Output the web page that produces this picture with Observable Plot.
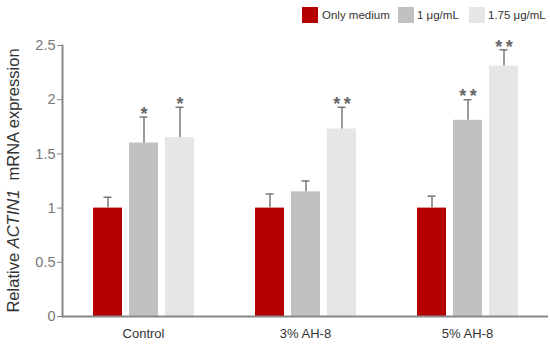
<!DOCTYPE html>
<html><head><meta charset="utf-8">
<script src="https://cdn.jsdelivr.net/npm/d3@7"></script>
<script src="https://cdn.jsdelivr.net/npm/@observablehq/plot@0.6"></script>
<style>
body{margin:0;background:#fff;font-family:"Liberation Sans",Arial,sans-serif;}
#wrap{position:relative;width:550px;height:347px;}
#legend{position:relative;height:30px;font-size:11.5px;color:#333;}
.sw{position:absolute;top:7px;width:16px;height:16px;}
.lt{position:absolute;top:7px;line-height:16px;}
</style></head>
<body><div id="wrap"><div id="legend"></div><div id="chart"></div></div>
<script>
const groups = ["Control", "3% AH-8", "5% AH-8"];
const series = ["Only medium", "1 μg/mL", "1.75 μg/mL"];
const colors = ["#b60000", "#c0c1c0", "#e6e6e6"];
const onlyMedium = [1.00, 1.00, 1.00];
const low = [1.60, 1.15, 1.81];
const high = [1.65, 1.73, 2.31];
const onlyMediumErr = [0.10, 0.13, 0.11];
const lowErr = [0.24, 0.10, 0.19];
const highErr = [0.28, 0.20, 0.15];
const lowStars = ["*", "", "**"];
const highStars = ["*", "**", "**"];
const yTicks = [0, 0.5, 1, 1.5, 2, 2.5];

const vals = [onlyMedium, low, high];
const errs = [onlyMediumErr, lowErr, highErr];
const stars = [["", "", ""], lowStars, highStars];
const data = [];
groups.forEach((g, gi) => series.forEach((s, si) => data.push({
  group: g, series: s, value: vals[si][gi], top: vals[si][gi] + errs[si][gi], star: stars[si][gi]
})));

// legend
const legend = document.getElementById("legend");
const legPos = [[302, 322], [398, 417], [469, 488]];
series.forEach((s, i) => {
  const sw = document.createElement("div");
  sw.className = "sw"; sw.style.left = legPos[i][0] + "px"; sw.style.background = colors[i];
  legend.appendChild(sw);
  const t = document.createElement("div");
  t.className = "lt"; t.style.left = legPos[i][1] + "px"; t.textContent = s;
  legend.appendChild(t);
});

const chart = Plot.plot({
  width: 550, height: 317,
  marginLeft: 62, marginRight: 2, marginTop: 15, marginBottom: 31,
  style: {fontFamily: "Liberation Sans, Arial, sans-serif", background: "#fff"},
  fx: {domain: groups, padding: 0, label: null, axis: null},
  x: {domain: series, axis: null, paddingInner: 0.205, paddingOuter: 0.82},
  y: {domain: [0, 2.5], ticks: yTicks, label: null},
  color: {domain: series, range: colors},
  marks: [
    Plot.axisY({ticks: yTicks, tickFormat: d => String(d), tickSize: 5, tickPadding: 2, fontSize: 14.5, color: "#777", stroke: "#888"}),
    Plot.axisFx({anchor: "bottom", label: null, tickSize: 0, tickPadding: 12, fontSize: 13, color: "#333"}),
    Plot.barY(data, {fx: "group", x: "series", y: "value", fill: "series"}),
    Plot.ruleX(data, {fx: "group", x: "series", y1: "value", y2: "top", stroke: "#777", strokeWidth: 1.5}),
    Plot.tickY(data, {fx: "group", x: "series", y: "top", stroke: "#777", strokeWidth: 1.5, insetLeft: 10.5, insetRight: 10.5}),
    Plot.text(data, {fx: "group", x: "series", y: "top", text: d => d.star.split("").join("\u2009"), dy: -3, fontSize: 18, fontWeight: "bold", fill: "#666"}),
    Plot.ruleY([0], {stroke: "#888", strokeWidth: 2}),
    Plot.frame({anchor: "left", facetAnchor: "left", stroke: "#888", strokeWidth: 2})
  ]
});
document.getElementById("chart").appendChild(chart);

// y-axis title with italic gene name
const svg = d3.select(chart);
const lbl = svg.append("text")
  .attr("transform", `translate(19,${(15 + 286) / 2}) rotate(-90)`)
  .attr("text-anchor", "middle")
  .attr("font-size", 16.5).attr("fill", "#333")
  .attr("font-family", "Liberation Sans, Arial, sans-serif");
lbl.append("tspan").text("Relative ");
lbl.append("tspan").attr("font-style", "italic").text("ACTIN1");
lbl.append("tspan").text("  mRNA expression");
</script></body></html>
